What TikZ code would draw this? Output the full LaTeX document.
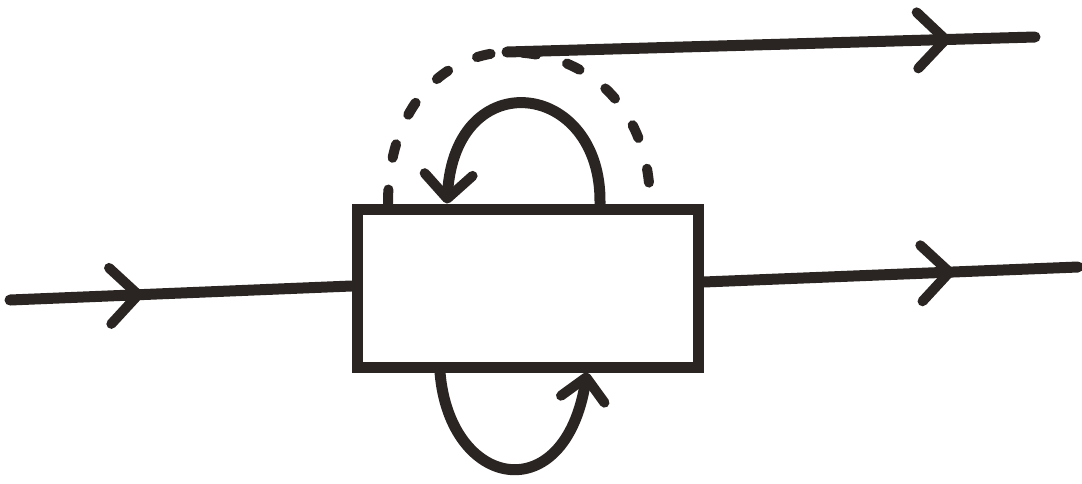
\documentclass[tikz,border=0pt]{standalone}
\usetikzlibrary{arrows.meta,decorations.markings}
\definecolor{inkc}{HTML}{2A2522}
\begin{document}
\begin{tikzpicture}[x=0.5pt,y=-0.5pt]
\tikzset{
  ink/.style={line width=5.5pt, line cap=round, line join=round, draw=inkc},
  barb/.tip={Straight Barb[length=14pt,width=28pt,round]},
  midarrow/.style={postaction={decorate},
    decoration={markings, mark=at position #1 with {\arrow[inkc,line width=5pt]{barb}}}},
  dashink/.style={ink, line width=5pt, dash pattern=on 7pt off 16pt}
}
\useasboundingbox[fill=white] (0,0) rectangle (1082,483);
% central box
\node[draw=inkc, line width=5.5pt, minimum width=170.5pt, minimum height=79pt, inner sep=0pt] (box) at (527.5,288) {};
% coordinates
\coordinate (inS) at (10,300);
\coordinate (outE) at (1078,267);
\coordinate (tS) at (507,52);
\coordinate (tE) at (1035,37);
\coordinate (s1) at (600,0 |- box.north);
\coordinate (s2) at (447,0 |- box.north);
\coordinate (d1) at (388,0 |- box.north);
\coordinate (d2) at (650,0 |- box.north);
\coordinate (b1) at (440,0 |- box.south);
\coordinate (b2) at (587,0 |- box.south);
% input and outputs
\draw[ink, midarrow=0.39] (inS) -- ([yshift=1pt]box.west);
\draw[ink, midarrow=0.67] ([yshift=3pt]box.east) -- (outE);
\draw[ink, midarrow=0.84] (tS) -- (tE);
% solid top loop
\draw[ink, -{barb[length=12pt,width=24pt,line width=5pt]}] (s1) .. controls (602,80) and (455,62) .. (s2);
% dashed loop
\draw[dashink] (d1) .. controls (388,110) and (440,55) .. (tS) .. controls (590,52) and (650,110) .. (d2);
% bottom loop
\draw[ink, -{barb[length=11pt,width=22pt,line width=5pt]}] (b1) .. controls (450,490) and (565,510) .. (b2);
\end{tikzpicture}
\end{document}
